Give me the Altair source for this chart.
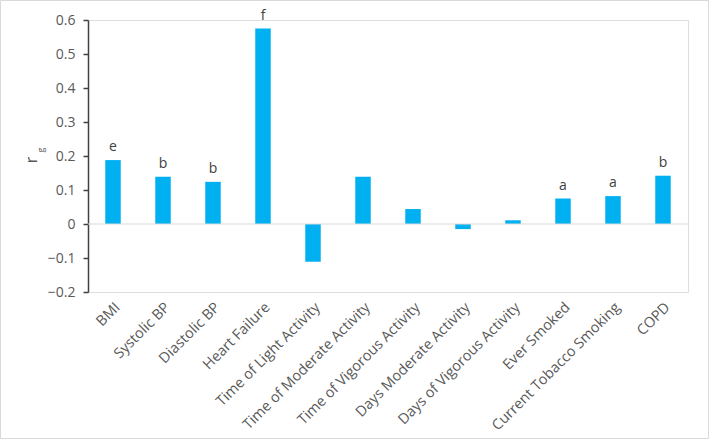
import altair as alt
import pandas as pd

categories = ["BMI", "Systolic BP", "Diastolic BP", "Heart Failure",
              "Time of Light Activity", "Time of Moderate Activity",
              "Time of Vigorous Activity", "Days Moderate Activity",
              "Days of Vigorous Activity", "Ever Smoked",
              "Current Tobacco Smoking", "COPD"]
values = [0.188, 0.139, 0.124, 0.575, -0.111, 0.139, 0.044, -0.015, 0.011, 0.075, 0.082, 0.142]
letters = ["e", "b", "b", "f", "", "", "", "", "", "a", "a", "b"]
y_ticks = [-0.2, -0.1, 0, 0.1, 0.2, 0.3, 0.4, 0.5, 0.6]

df = pd.DataFrame({"cat": categories, "val": values, "lab": letters})

FONT = "Open Sans"
GREY = "#595959"

x = alt.X("cat:N", sort=categories, title=None,
          scale=alt.Scale(paddingInner=0.69, paddingOuter=0.345),
          axis=alt.Axis(labelAngle=-45, domain=False, ticks=False,
                        labelFont=FONT, labelFontSize=14.5, labelColor=GREY,
                        labelPadding=8, labelLimit=300))
y_axis = alt.Axis(values=y_ticks, grid=False, domainColor="#404040", domainWidth=1.5,
                  tickColor="#404040", tickSize=5, tickWidth=1.5, labelOverlap=False,
                  labelFont=FONT, labelFontSize=14, labelColor=GREY,
                  labelPadding=8,
                  labelExpr="datum.value == 0 ? '0' : format(datum.value, '.1f')")
y = alt.Y("val:Q", title=None, scale=alt.Scale(domain=[-0.2, 0.6], nice=False), axis=y_axis)

bars = alt.Chart(df).mark_bar(color="#00B0F0").encode(x=x, y=y)

zero = alt.Chart(pd.DataFrame({"val": [0]})).mark_rule(color="#d9d9d9", strokeWidth=1.2).encode(y=y)

text = alt.Chart(df).mark_text(baseline="bottom", dy=-6, font=FONT, fontSize=14,
                               color="#404040").encode(x=x, y=y, text="lab:N")

title_r = alt.Chart(pd.DataFrame({"t": ["r"]})).mark_text(
    font=FONT, fontSize=16, color=GREY, angle=270).encode(
    x=alt.value(-56), y=alt.value(140), text="t:N")
title_g = alt.Chart(pd.DataFrame({"t": ["g"]})).mark_text(
    font=FONT, fontSize=9, color=GREY, angle=270).encode(
    x=alt.value(-47), y=alt.value(130), text="t:N")

frame = alt.Chart(pd.DataFrame({"f": [1]})).mark_rect(
    fill=None, stroke="#d9d9d9", strokeWidth=1).encode(
    x=alt.value(-87.5), x2=alt.value(620.5), y=alt.value(-19.5), y2=alt.value(418.5))

chart = alt.layer(bars, zero, text, title_r, title_g, frame).properties(
    width=600, height=272,
    autosize=alt.AutoSizeParams(type="none"),
    padding={"left": 88, "top": 20, "right": 21, "bottom": 147},
).configure_view(stroke=None).configure(background="white")

chart.save("out.html", embed_options={"renderer": "svg", "actions": False})
